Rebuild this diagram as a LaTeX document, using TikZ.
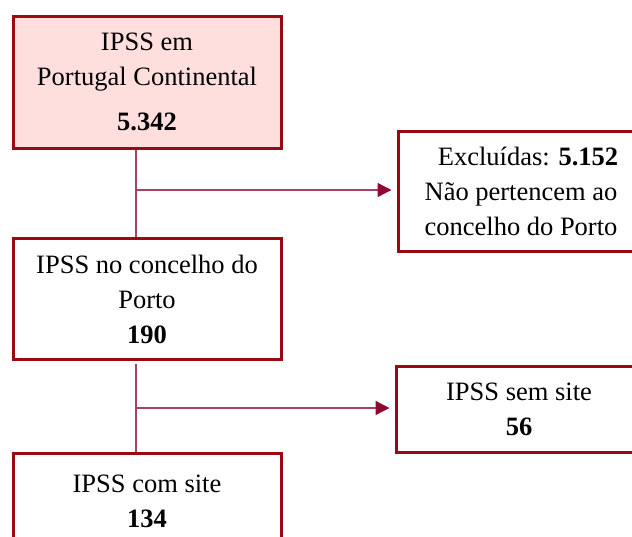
\documentclass[tikz,border=0pt]{standalone}
\usepackage{fontspec}
\setmainfont{Liberation Serif}
\usetikzlibrary{arrows.meta}
\definecolor{boxred}{HTML}{9A0A14}
\definecolor{boxfill}{HTML}{FFDEDE}
\definecolor{linecol}{HTML}{A8406A}
\definecolor{tipcol}{HTML}{8E0A30}
\tikzset{
  flowbox/.style={draw=boxred, line width=3pt, inner sep=0pt, align=center,
    font=\fontsize{26.5}{35}\selectfont},
  conn/.style={draw=linecol, line width=1.4pt},
  arr/.style={conn, -{Triangle[length=14pt,width=14pt,color=tipcol]}, shorten >=5pt}
}
\begin{document}
\begin{tikzpicture}[x=1pt,y=-1pt]
\useasboundingbox (0,0) rectangle (632,536);
\node[flowbox, fill=boxfill, minimum width=268pt, minimum height=132pt] (b1) at (147,82)
  {IPSS em\\Portugal Continental\\[10pt]\textbf{5.342}};
\node[flowbox, minimum width=246pt, minimum height=120pt] (b2) at (521,191)
  {\hspace*{14pt}Excluídas: \textbf{5.152}\\Não pertencem ao\\concelho do Porto};
\node[flowbox, minimum width=268pt, minimum height=121pt] (b3) at (147,299)
  {IPSS no concelho do\\Porto\\\textbf{190}};
\node[flowbox, minimum width=246pt, minimum height=86pt] (b5) at (519,409)
  {IPSS sem site\\\textbf{56}};
\node[flowbox, minimum width=268pt, minimum height=96pt] (b4) at (147,501)
  {IPSS com site\\\textbf{134}};
\coordinate (j1) at (136,190);
\coordinate (j2) at (136,408);
\draw[conn] ([xshift=-11pt]b1.south) -- ([xshift=-11pt]b3.north);
\draw[arr] (j1) -- (j1 -| b2.west);
\draw[conn, shorten <=3pt] ([xshift=-11pt]b3.south) -- ([xshift=-11pt]b4.north);
\draw[arr] (j2) -- (j2 -| b5.west);
\end{tikzpicture}
\end{document}
